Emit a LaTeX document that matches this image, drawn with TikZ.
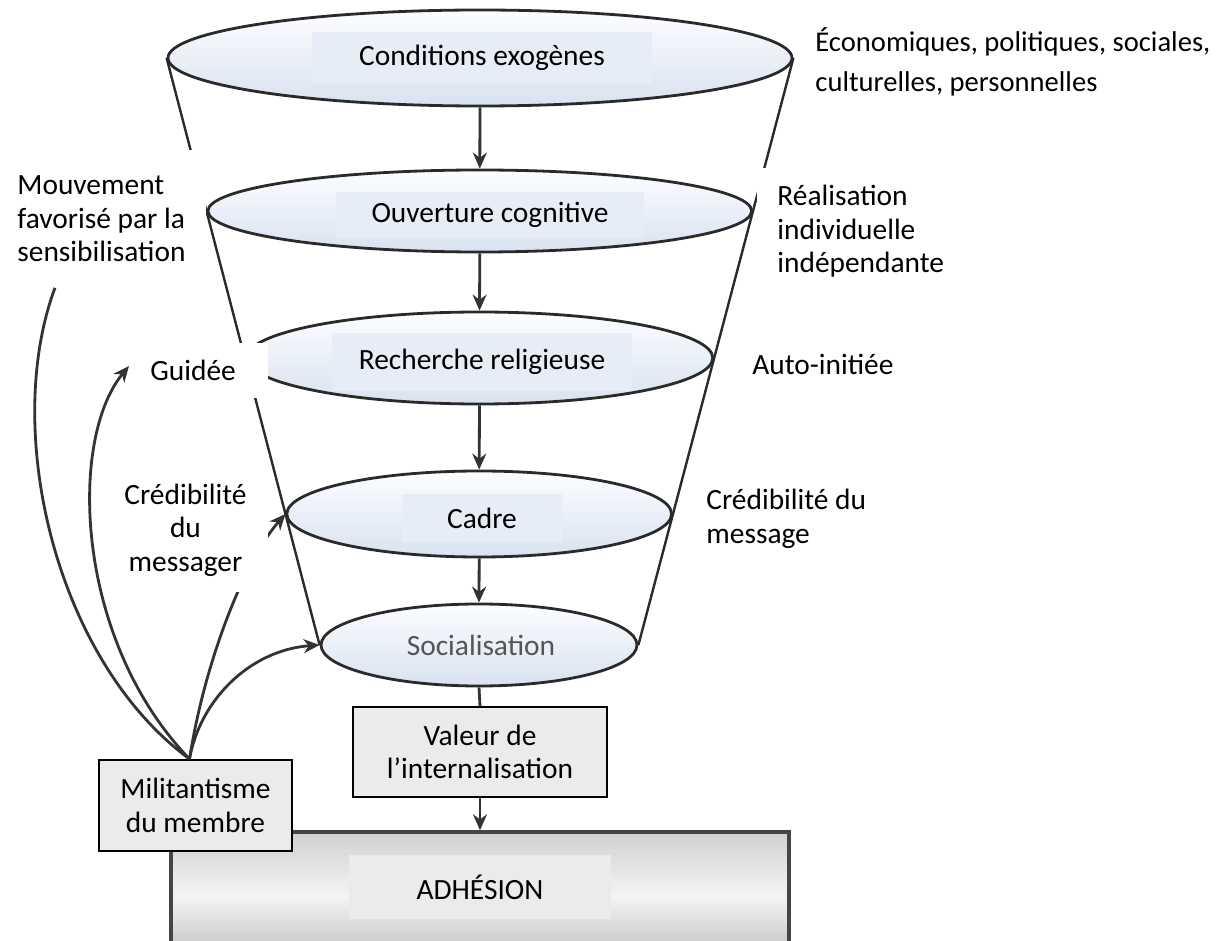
\documentclass[tikz,border=0pt]{standalone}
\usepackage{fontspec}
\setmainfont{Carlito}
\usetikzlibrary{arrows.meta,shapes.geometric}
\definecolor{lineC}{HTML}{2A2A2A}
\definecolor{arrC}{HTML}{333333}
\definecolor{ellTop}{HTML}{FCFDFF}
\definecolor{ellBot}{HTML}{D9E2F0}
\definecolor{rectC}{HTML}{E6EDF7}
\definecolor{boxC}{HTML}{EBEBEB}
\definecolor{adhTop}{HTML}{D0D0D0}
\definecolor{adhMid}{HTML}{F4F4F4}
\definecolor{adhBot}{HTML}{BDBDBD}
\definecolor{adhLine}{HTML}{454545}
\definecolor{socC}{HTML}{555555}
\pgfdeclarelayer{bg}
\pgfsetlayers{bg,main}
\begin{document}
\begin{tikzpicture}[x=0.5pt,y=-0.5pt,
  font=\fontsize{14.7}{16.8}\selectfont,
  stage/.style={ellipse, draw=lineC, line width=1.4pt, top color=ellTop, bottom color=ellBot, inner sep=0pt},
  stagetext/.style={fill=rectC, inner sep=0pt},
  funnel/.style={draw=lineC, line width=1.2pt},
  flow/.style={draw=arrC, line width=1.4pt, -{Stealth[length=8pt,width=7pt]}},
  conn/.style={draw=arrC, line width=1.4pt},
  wlbl/.style={fill=white, inner sep=0pt},
  plainlbl/.style={inner sep=0pt, align=left},
  graybox/.style={draw=black, line width=1pt, fill=boxC, align=center, inner sep=0pt}]
\clip (0,0) rectangle (1228,941);

% white label boxes that hide the funnel lines
\node[wlbl, anchor=north west, text width=90pt, align=flush left, inner xsep=4.5pt, minimum height=68.5pt] (mouv) at (8,150) {Mouvement\\favorisé par la\\sensibilisation};
\node[wlbl, anchor=north west, align=left, inner xsep=10pt, minimum height=63pt] (real) at (757,168) {Réalisation\\individuelle\\indépendante};

% funnel stages
\node[stage, minimum width=312pt, minimum height=48pt] (e1) at (480,58) {};
\node[stage, minimum width=271.9pt, minimum height=41pt] (e2) at (479.8,211) {};
\node[stage, minimum width=233.3pt, minimum height=46pt] (e3) at (479.5,358) {};
\node[stage, minimum width=192.4pt, minimum height=43pt] (e4) at (479.2,514) {};
\node[stage, minimum width=158pt, minimum height=41pt] (e5) at (479,645) {};

\node[stagetext, minimum width=170pt, minimum height=25.5pt] (t1) at (482,58) {Conditions exogènes};
\node[stagetext, minimum width=154pt, minimum height=23pt] (t2) at (490,215) {Ouverture cognitive};
\node[stagetext, minimum width=150pt, minimum height=29pt] (t3) at (482,362) {Recherche religieuse};
\node[stagetext, minimum width=80pt, minimum height=24pt] (t4) at (482,518) {Cadre};
\node[inner sep=0pt, text=socC] (t5) at (481,645) {Socialisation};

\begin{pgfonlayer}{bg}
\draw[funnel] (e1.west) -- (e5.west);
\draw[funnel] (e1.east) -- (e5.east);
\end{pgfonlayer}

\draw[flow] (e1.south) -- (e2.north);
\draw[flow] (e2.south) -- (e3.north);
\draw[flow] (e3.south) -- (e4.north);
\draw[flow] (e4.south) -- (e5.north);

% bottom boxes
\node[draw=adhLine, line width=1.7pt, top color=adhTop, bottom color=adhBot, middle color=adhMid, minimum width=309pt, minimum height=64pt, inner sep=0pt] (adh) at (480,896) {};
\node[fill=boxC, minimum width=131pt, minimum height=32pt, inner sep=0pt] (adhtxt) at (480,887) {ADHÉSION};
\node[graybox, minimum width=127pt, minimum height=45pt] (valeur) at (480,752) {Valeur de\\l’internalisation};
\draw[conn] (e5.south) -- (valeur.north);
\draw[flow] (valeur.south) -- (adh.north);
\node[graybox, minimum width=96.5pt, minimum height=45.5pt] (milit) at (195.5,805.5) {Militantisme\\du membre};

% curves from the member
\draw[conn] ([xshift=-3pt]milit.north) .. controls (55,660) and (2,430) .. ([xshift=23.5pt]mouv.south west);
\draw[flow] ([xshift=-3pt]milit.north) .. controls (75,640) and (68,440) .. (129,366);
\draw[flow] ([xshift=-3pt]milit.north) .. controls (205,660) and (245,560) .. (e4.west);
\draw[flow] ([xshift=-3pt]milit.north) .. controls (200,700) and (250,650) .. (e5.west);

% white labels over curves
\node[wlbl, anchor=west, text width=49pt, align=flush left, inner xsep=10pt, minimum height=27.5pt] (guidee) at (130,370.5) {Guidée};
\node[wlbl, align=center, minimum width=82.5pt, minimum height=62pt] (credm) at (185.5,530) {Crédibilité\\du\\messager};

% right-hand labels
\node[plainlbl, anchor=west, font=\fontsize{14.3}{20}\selectfont] (econ) at (815,62) {Économiques, politiques, sociales,\\culturelles, personnelles};
\node[plainlbl, anchor=west] (auto) at (752,364) {Auto-initiée};
\node[plainlbl, anchor=west] (cred) at (706,519) {Crédibilité du\\message};
\end{tikzpicture}
\end{document}
